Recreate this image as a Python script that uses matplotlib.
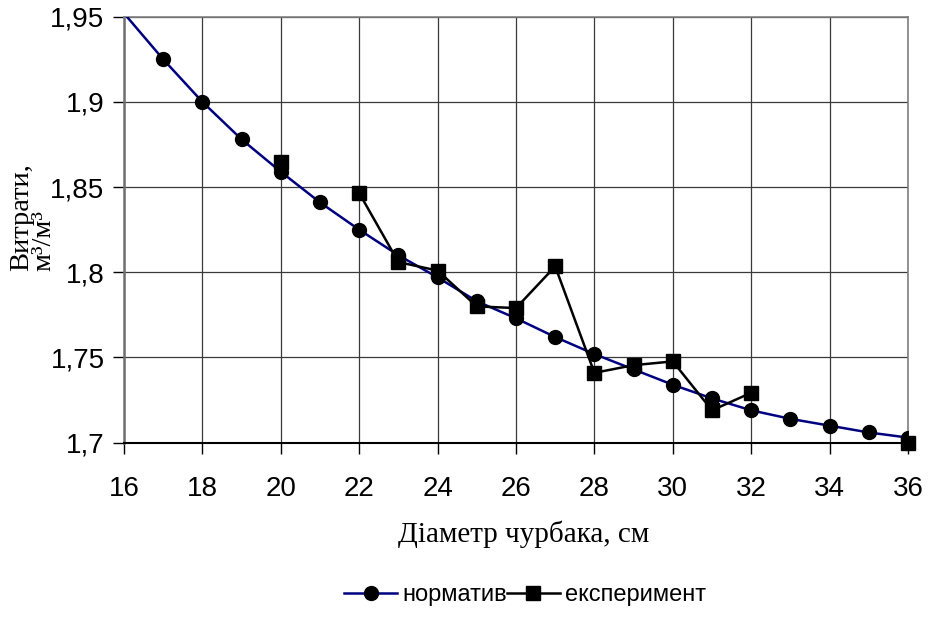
import numpy as np
import matplotlib
matplotlib.use("Agg")
import matplotlib.pyplot as plt
from matplotlib.ticker import MultipleLocator, FuncFormatter

## data
diam = [16, 17, 18, 19, 20, 21, 22, 23, 24, 25, 26, 27, 28, 29, 30, 31, 32, 33, 34, 35, 36]
norm = [1.952, 1.925, 1.900, 1.878, 1.859, 1.841, 1.825, 1.810, 1.797, 1.783, 1.773, 1.762,
        1.752, 1.743, 1.734, 1.726, 1.719, 1.714, 1.710, 1.706, 1.703]
# nan = no measurement (gaps in the line)
expt = [np.nan, np.nan, np.nan, np.nan, 1.865, np.nan, 1.8465, 1.806, 1.801, 1.780, 1.779, 1.8035,
        1.741, 1.7455, 1.7477, 1.719, 1.7293, np.nan, np.nan, np.nan, 1.700]

sans = "Liberation Sans"
serif = "Liberation Serif"

fig = plt.figure(figsize=(9.31, 6.17), dpi=100)
ax = fig.add_axes([124/931, 1-442.7/617, (908-124)/931, (442.7-16.7)/617])

ax.plot(diam, norm, color="#000080", lw=1.8, marker="o", ms=10, mfc="black", mec="black",
        markevery=slice(1, None), label="норматив", zorder=3)
ax.plot(diam, expt, color="black", lw=1.8, marker="s", ms=10.5, mfc="black", mec="black",
        label="експеримент", zorder=4, clip_on=False)

ax.set_xlim(16, 36)
ax.set_ylim(1.7, 1.95)
ax.xaxis.set_major_locator(MultipleLocator(2))
ax.yaxis.set_major_locator(MultipleLocator(0.05))
ax.yaxis.set_major_formatter(FuncFormatter(lambda v, p: f"{v:.2f}".rstrip("0").replace(".", ",")))

ax.grid(True, color="#3a3a3a", lw=0.9)
ax.set_axisbelow(True)
for s in ["top", "right"]:
    ax.spines[s].set_color("#808080")
    ax.spines[s].set_linewidth(1.2)
ax.spines["left"].set_color("#707070")
ax.spines["left"].set_linewidth(1.8)
ax.spines["bottom"].set_color("black")
ax.spines["bottom"].set_linewidth(1.5)

ax.tick_params(axis="x", direction="out", length=8, width=1, pad=16, labelsize=20)
ax.tick_params(axis="y", direction="out", length=8, width=1, pad=6, labelsize=20)
for t in ax.get_xticklabels() + ax.get_yticklabels():
    t.set_fontfamily(sans)

fig.text(524/931, 1-534/617, "Діаметр чурбака, см", ha="center", va="center",
         fontfamily=serif, fontsize=21)
fig.text(33/931, 1-271/617, "Витрати,\nм³/м³", rotation=90, ha="center", va="bottom",
         multialignment="left", linespacing=0.85, fontfamily=serif, fontsize=20.5)

fig.legend(loc="center", bbox_to_anchor=(525/931, 1-595/617), ncol=2, frameon=False,
           prop={"family": sans, "size": 17}, handlelength=2.25, handletextpad=0.2,
           columnspacing=0.0, borderpad=0, borderaxespad=0)

fig.savefig("out.png", dpi=100)
